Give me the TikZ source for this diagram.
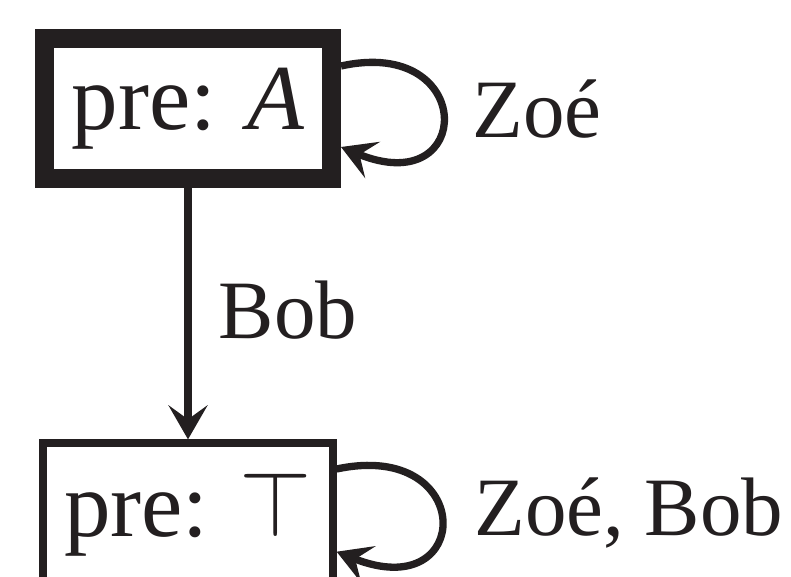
\RequirePackage{fix-cm}
\documentclass[tikz,border=0pt]{standalone}
\usepackage{fontspec}
\setmainfont{Liberation Serif}
\usetikzlibrary{arrows.meta}
\definecolor{ink}{RGB}{35,31,32}
\begin{document}
\begin{tikzpicture}[x=1pt,y=-1pt,
  state/.style={draw=ink, text=ink, rectangle, inner sep=0pt, font=\fontsize{93}{100}\selectfont},
  initial/.style={line width=19pt, minimum width=287pt, minimum height=140pt},
  plain/.style={line width=7.3pt, minimum width=290pt, minimum height=143pt},
  lab/.style={text=ink, inner sep=0pt, font=\fontsize{83}{90}\selectfont},
  trans/.style={draw=ink, line width=7.3pt, -{Stealth[length=34pt, width=39pt, inset=14pt]}}
]
\clip (0,0) rectangle (791,577);
\fill[white] (0,0) rectangle (791,577);

% worlds
\node[state, initial] (a) at (188,108.7) {pre: \textit{A}};
\node[state, plain]   (b) at (188,514.5) {pre: $\top$};

% transition from a to b
\draw[trans] (a) -- node[lab, pos=0.5, anchor=base west, shift={(27.1,24.6)}] {Bob} (b);

% reflexive transitions
\draw[trans] ([yshift=42.7pt]a.east) .. controls +(136,-30) and +(134,55) ..
  node[lab, pos=0.5, anchor=base west, shift={(26.75,21.4)}] {Zoé}
  ([yshift=-38.3pt]a.east);
\draw[trans] ([yshift=45.5pt]b.east) .. controls +(140,-30) and +(138,55) ..
  node[lab, pos=0.5, anchor=base west, shift={(29.8,15.3)}] {Zoé, Bob}
  ([yshift=-37.2pt]b.east);
\end{tikzpicture}
\end{document}
